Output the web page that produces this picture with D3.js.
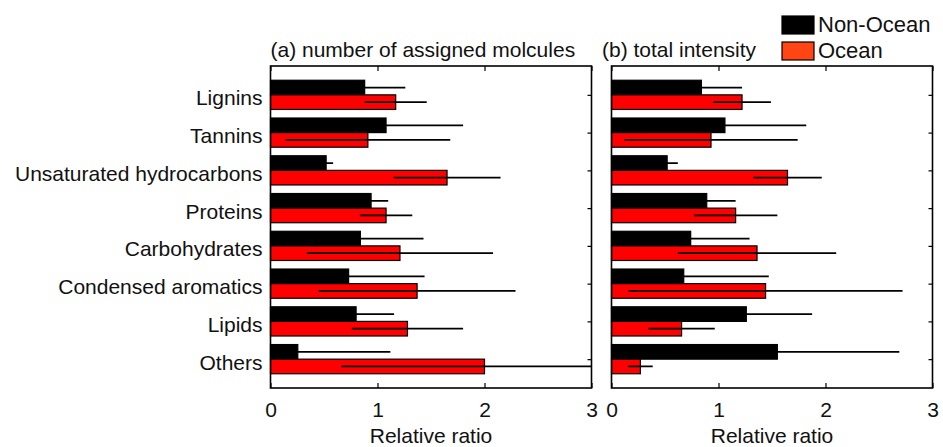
<!DOCTYPE html>
<html>
<head>
<meta charset="utf-8">
<script src="https://cdn.jsdelivr.net/npm/d3@7.9.0/dist/d3.min.js"></script>
<style>
  body { margin: 0; background: #fff; }
  svg { display: block; font-family: 'Liberation Sans', Arial, sans-serif; }
  .axis text { font-size: 21px; fill: #111; }
</style>
</head>
<body>
<div id="chart"></div>
<script>
const categories = ['Lignins', 'Tannins', 'Unsaturated hydrocarbons', 'Proteins',
  'Carbohydrates', 'Condensed aromatics', 'Lipids', 'Others'];
const xTicks = [0, 1, 2, 3];

// (a) number of assigned molecules
const nonOceanA = [0.88, 1.08, 0.52, 0.94, 0.84, 0.73, 0.80, 0.255];
const nonOceanAErr = [0.38, 0.72, 0.065, 0.16, 0.59, 0.71, 0.355, 0.865];
const oceanA = [1.17, 0.91, 1.65, 1.08, 1.21, 1.37, 1.28, 2.00];
const oceanAErr = [0.29, 0.77, 0.50, 0.245, 0.87, 0.92, 0.52, 1.34];

// (b) total intensity
const nonOceanB = [0.84, 1.06, 0.52, 0.89, 0.74, 0.675, 1.26, 1.55];
const nonOceanBErr = [0.38, 0.76, 0.10, 0.27, 0.55, 0.795, 0.615, 1.14];
const oceanB = [1.22, 0.93, 1.645, 1.16, 1.36, 1.44, 0.655, 0.27];
const oceanBErr = [0.27, 0.81, 0.32, 0.39, 0.74, 1.28, 0.31, 0.115];

const panels = [
  { id: 'a', title: '(a) number of assigned molcules', left: 270.5, nonOcean: nonOceanA, nonOceanErr: nonOceanAErr, ocean: oceanA, oceanErr: oceanAErr, labels: true },
  { id: 'b', title: '(b) total intensity', left: 611.5, nonOcean: nonOceanB, nonOceanErr: nonOceanBErr, ocean: oceanB, oceanErr: oceanBErr, labels: false },
];

const seriesNames = ['Non-Ocean', 'Ocean'];
const barColors = { 'Non-Ocean': '#000', 'Ocean': '#ff0000' };
const legendColors = { 'Non-Ocean': '#000', 'Ocean': '#ff4513' };

const width = 943, height = 447;
const plotTop = 66, plotBottom = 388, panelWidth = 321;

const svg = d3.select('#chart').append('svg')
  .attr('width', width).attr('height', height);

const yScale = d3.scalePoint()
  .domain(categories)
  .range([plotTop, plotBottom])
  .padding(0.764);

const inner = d3.scaleBand()
  .domain(seriesNames)
  .range([-14.6, 14.6]);

panels.forEach((p) => {
  const xScale = d3.scaleLinear().domain([0, 3]).range([p.left, p.left + panelWidth]);
  const g = svg.append('g').attr('class', 'panel-' + p.id);

  const rows = categories.flatMap((c, i) => [
    { cat: c, series: 'Non-Ocean', value: p.nonOcean[i], err: p.nonOceanErr[i] },
    { cat: c, series: 'Ocean', value: p.ocean[i], err: p.oceanErr[i] },
  ]);

  // left axis (labels only on the first panel)
  const leftAxis = d3.axisLeft(yScale).tickSize(-4).tickPadding(8);
  if (!p.labels) leftAxis.tickFormat('');
  g.append('g').attr('class', 'axis')
    .attr('transform', `translate(${p.left},0)`)
    .call(leftAxis)
    .call((a) => a.select('.domain').remove())
    .call((a) => a.selectAll('text').attr('dy', '0.48em'));

  // bars
  g.append('g').selectAll('rect')
    .data(rows)
    .join('rect')
    .attr('x', xScale(0))
    .attr('y', (d) => yScale(d.cat) + inner(d.series))
    .attr('width', (d) => xScale(d.value) - xScale(0))
    .attr('height', inner.bandwidth())
    .attr('fill', (d) => barColors[d.series])
    .attr('stroke', '#000')
    .attr('stroke-width', 1.2);

  // error bars, clipped to the plot frame
  const clipId = 'clip-' + p.id;
  svg.append('clipPath').attr('id', clipId)
    .append('rect')
    .attr('x', xScale(0)).attr('y', plotTop)
    .attr('width', panelWidth).attr('height', plotBottom - plotTop);

  g.append('g').attr('clip-path', `url(#${clipId})`)
    .selectAll('line')
    .data(rows)
    .join('line')
    .attr('x1', (d) => xScale(d.value - d.err))
    .attr('x2', (d) => xScale(d.value + d.err))
    .attr('y1', (d) => yScale(d.cat) + inner(d.series) + inner.bandwidth() / 2)
    .attr('y2', (d) => yScale(d.cat) + inner(d.series) + inner.bandwidth() / 2)
    .attr('stroke', '#000')
    .attr('stroke-width', 1.7);

  // bottom axis
  g.append('g').attr('class', 'axis')
    .attr('transform', `translate(0,${plotBottom})`)
    .call(d3.axisBottom(xScale).tickValues(xTicks).tickFormat(d3.format('d')).tickSize(-5).tickPadding(14))
    .call((a) => a.select('.domain').remove());

  // top axis
  g.append('g').attr('class', 'axis')
    .attr('transform', `translate(0,${plotTop})`)
    .call(d3.axisTop(xScale).tickValues(xTicks).tickFormat('').tickSize(-5))
    .call((a) => a.select('.domain').remove());

  // right axis
  g.append('g').attr('class', 'axis')
    .attr('transform', `translate(${p.left + panelWidth},0)`)
    .call(d3.axisRight(yScale).tickFormat('').tickSize(-4))
    .call((a) => a.select('.domain').remove());

  g.selectAll('.tick line').attr('stroke', '#000').attr('stroke-width', 1.2);

  // frame
  g.append('rect')
    .attr('x', p.left).attr('y', plotTop)
    .attr('width', panelWidth).attr('height', plotBottom - plotTop)
    .attr('fill', 'none').attr('stroke', '#000').attr('stroke-width', 1.6);

  // title
  g.append('text')
    .attr('x', p.left - (p.id === 'b' ? 9.5 : 0))
    .attr('y', 57)
    .attr('font-size', 21)
    .attr('fill', '#111')
    .text(p.title);

  // x label
  g.append('text')
    .attr('x', p.left + panelWidth / 2)
    .attr('y', 443)
    .attr('text-anchor', 'middle')
    .attr('font-size', 21)
    .attr('fill', '#111')
    .text('Relative ratio');
});

// legend
const legend = svg.append('g').attr('transform', 'translate(782,16)');
legend.selectAll('rect')
  .data(seriesNames)
  .join('rect')
  .attr('x', 0)
  .attr('y', (d, i) => i * 26)
  .attr('width', 32)
  .attr('height', 18)
  .attr('fill', (d) => legendColors[d])
  .attr('stroke', '#000')
  .attr('stroke-width', 1.2);
legend.selectAll('text')
  .data(seriesNames)
  .join('text')
  .attr('x', 36)
  .attr('y', (d, i) => i * 26 + 16)
  .attr('font-size', 22)
  .attr('fill', '#111')
  .text((d) => d);
</script>
</body>
</html>
